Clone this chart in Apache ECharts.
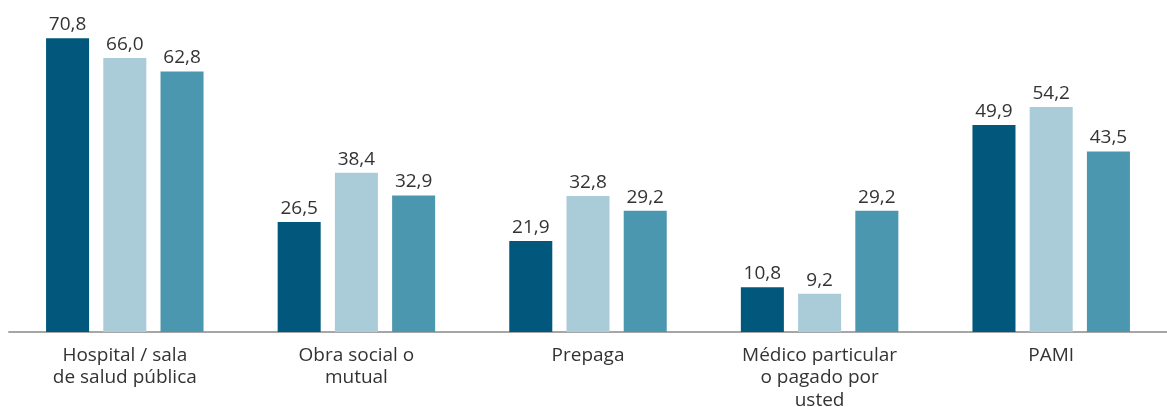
<!DOCTYPE html>
<html><head><meta charset="utf-8">
<script src="https://cdn.jsdelivr.net/npm/echarts@6/dist/echarts.min.js"></script>
<style>html,body{margin:0;padding:0;background:#fff}#c{width:1167px;height:407px}</style>
</head><body><div id="c"></div>
<script>
const categories = ["Hospital / sala\nde salud pública", "Obra social o\nmutual", "Prepaga", "Médico particular\no pagado por\nusted", "PAMI"];
const serieA = [70.8, 26.5, 21.9, 10.8, 49.9];
const serieB = [66.0, 38.4, 32.8, 9.2, 54.2];
const serieC = [62.8, 32.9, 29.2, 29.2, 43.5];
const seriesNames = ["Serie 1", "Serie 2", "Serie 3"];
const colors = ["#02587C", "#AACBD8", "#4C97B0"];

const FONT = '"Open Sans", "Noto Sans", sans-serif';
const chart = echarts.init(document.getElementById('c'));
const fmt = p => p.value.toFixed(1).replace('.', ',');
function mk(name, data, color) {
  return {
    name, type: 'bar', data, barGap: '33%', barCategoryGap: '32%',
    itemStyle: { color },
    label: { show: true, position: 'top', distance: 4, formatter: fmt,
      fontFamily: FONT, fontSize: 19, color: '#333' }
  };
}
chart.setOption({
  animation: false,
  grid: { left: 9, right: 0, top: 0, bottom: 75, containLabel: false, outerBoundsMode: 'none' },
  xAxis: {
    type: 'category', data: categories,
    axisLine: { lineStyle: { color: '#a6a6a6', width: 2 } },
    axisTick: { show: false },
    axisLabel: { fontFamily: FONT, fontSize: 19, color: '#333', lineHeight: 22.5, margin: 12, interval: 0 }
  },
  yAxis: { type: 'value', min: 0, max: 80, show: false, splitLine: { show: false } },
  series: [mk(seriesNames[0], serieA, colors[0]), mk(seriesNames[1], serieB, colors[1]), mk(seriesNames[2], serieC, colors[2])]
});
</script></body></html>
